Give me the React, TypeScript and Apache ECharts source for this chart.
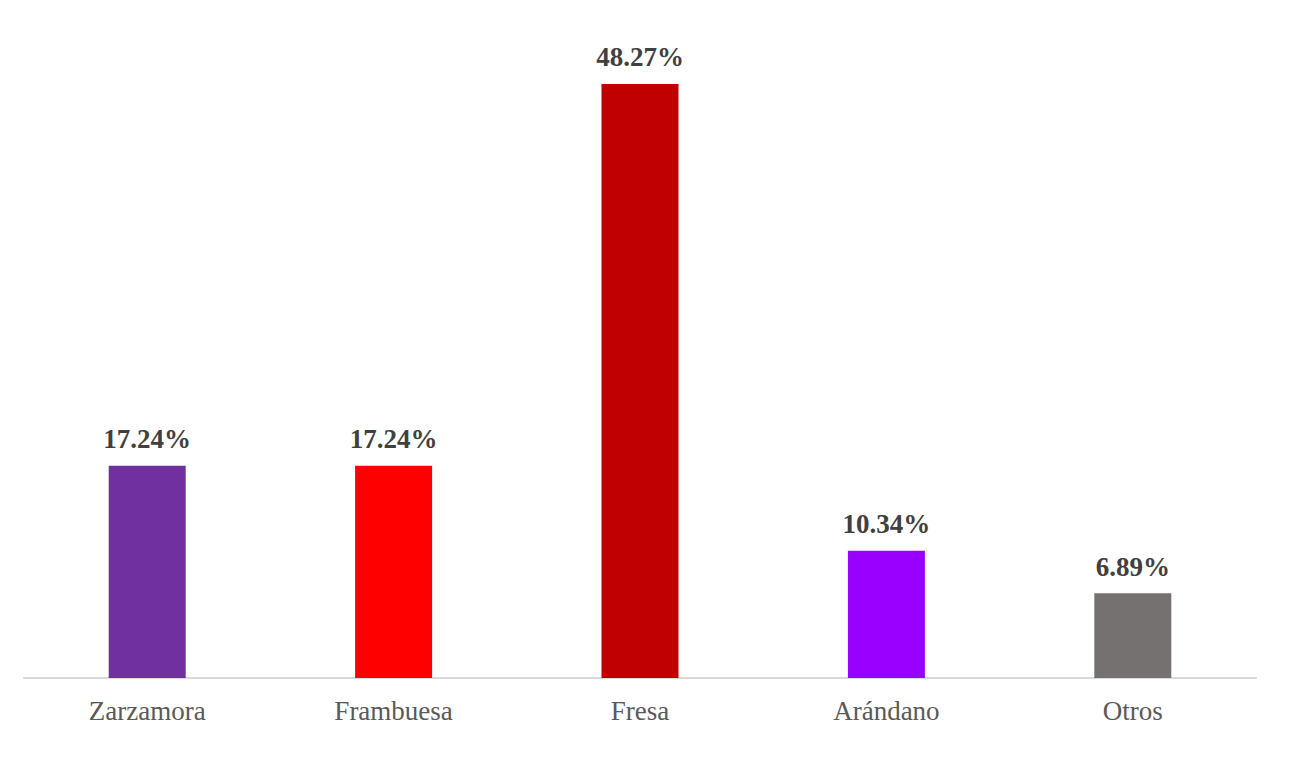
import React, { useEffect, useRef } from "react";
import * as echarts from "echarts";

const categories = ["Zarzamora", "Frambuesa", "Fresa", "Arándano", "Otros"];
const values = [17.24, 17.24, 48.27, 10.34, 6.89];
const colors = ["#7030A0", "#FF0000", "#C00000", "#9900FF", "#767171"];

export default function App() {
  const ref = useRef<HTMLDivElement>(null);
  useEffect(() => {
    if (!ref.current) return;
    const chart = echarts.init(ref.current, null, { renderer: "svg" });
    chart.setOption({
      animation: false,
      grid: { left: 16, right: 34, top: 54.7, bottom: 94, containLabel: false },
      xAxis: {
        type: "category",
        data: categories,
        axisLine: { lineStyle: { color: "#D9D9D9", width: 2 } },
        axisTick: { show: false },
        axisLabel: {
          color: "#595959",
          fontFamily: "Liberation Serif",
          fontSize: 27,
          margin: 19,
        },
      },
      yAxis: {
        type: "value",
        min: 0,
        max: 50,
        show: false,
        splitLine: { show: false },
      },
      series: [
        {
          type: "bar",
          barWidth: 77,
          data: values.map((v, i) => ({ value: v, itemStyle: { color: colors[i] } })),
          label: {
            show: true,
            position: "top",
            distance: 13,
            formatter: (p: any) => p.value.toFixed(2) + "%",
            color: "#404040",
            fontFamily: "Liberation Serif",
            fontWeight: "bold",
            fontSize: 27,
          },
        },
      ],
    });
    return () => chart.dispose();
  }, []);
  return <div ref={ref} style={{ width: 1282, height: 764 }} />;
}
